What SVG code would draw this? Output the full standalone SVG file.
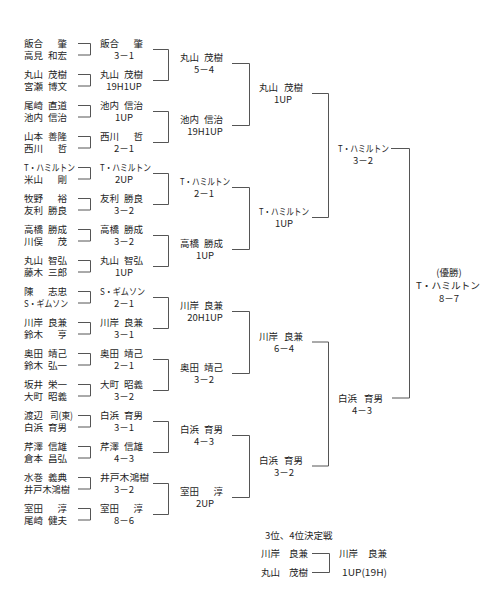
<svg xmlns="http://www.w3.org/2000/svg" width="504" height="600" viewBox="0 0 504 600">
<style>
text{font-family:"Noto Sans CJK JP","Noto Sans",sans-serif;font-size:9.5px;fill:#1e1e1e}
.m{text-anchor:middle}
.l{fill:none;stroke:#555;stroke-width:1}
</style>
<rect width="504" height="600" fill="#fff"/>
<g id="connectors" class="l">
<path d="M78 43.5H90.5V55H78M78 74.5H90.5V86H78M78 105.5H90.5V117H78M78 136.5H90.5V148H78M78 167.5H90.5V179H78M78 198.5H90.5V210H78M78 229.5H90.5V241H78M78 260.5H90.5V272H78M78 291.5H90.5V303H78M78 322.5H90.5V334H78M78 353.5H90.5V365H78M78 384.5H90.5V396H78M78 415.5H90.5V427H78M78 446.5H90.5V458H78M78 477.5H90.5V489H78M78 508.5H90.5V520H78"/>
<path d="M153 49.5H168.5V80.5H153M153 111.5H168.5V142.5H153M153 173.5H168.5V204.5H153M153 235.5H168.5V266.5H153M153 297.5H168.5V328.5H153M153 359.5H168.5V390.5H153M153 421.5H168.5V452.5H153M153 483.5H168.5V514.5H153"/>
<path d="M232 63.5H249.5V125.5H232M232 187.5H249.5V249.5H232M232 311.5H249.5V373.5H232M232 435.5H249.5V497.5H232"/>
<path d="M312 93.5H328.5V217.5H312M312 342H328.5V466H312"/>
<path d="M391 148.5H409.5V398H392"/>
<path d="M312 553.5H329.5V572.5H312"/>
</g>
<g id="round1">
<g id="p0"><text x="24" y="47"><tspan>飯合 </tspan><tspan x="57.5">肇</tspan></text><text x="24" y="58.5"><tspan>高見 </tspan><tspan x="48">和宏</tspan></text></g>
<g id="p1"><text x="24" y="78"><tspan>丸山 </tspan><tspan x="48">茂樹</tspan></text><text x="24" y="89.5"><tspan>宮瀬 </tspan><tspan x="48">博文</tspan></text></g>
<g id="p2"><text x="24" y="109"><tspan>尾崎 </tspan><tspan x="48">直道</tspan></text><text x="24" y="120.5"><tspan>池内 </tspan><tspan x="48">信治</tspan></text></g>
<g id="p3"><text x="24" y="140"><tspan>山本 </tspan><tspan x="48">善隆</tspan></text><text x="24" y="151.5"><tspan>西川 </tspan><tspan x="57.5">哲</tspan></text></g>
<g id="p4"><text x="24" y="171" textLength="51" lengthAdjust="spacingAndGlyphs">T・ハミルトン</text><text x="24" y="182.5"><tspan>米山 </tspan><tspan x="57.5">剛</tspan></text></g>
<g id="p5"><text x="24" y="202"><tspan>牧野 </tspan><tspan x="57.5">裕</tspan></text><text x="24" y="213.5"><tspan>友利 </tspan><tspan x="48">勝良</tspan></text></g>
<g id="p6"><text x="24" y="233"><tspan>高橋 </tspan><tspan x="48">勝成</tspan></text><text x="24" y="244.5"><tspan>川俣 </tspan><tspan x="57.5">茂</tspan></text></g>
<g id="p7"><text x="24" y="264"><tspan>丸山 </tspan><tspan x="48">智弘</tspan></text><text x="24" y="275.5"><tspan>藤木 </tspan><tspan x="48">三郎</tspan></text></g>
<g id="p8"><text x="24" y="295"><tspan>陳 </tspan><tspan x="48">志忠</tspan></text><text x="24" y="306.5" textLength="44" lengthAdjust="spacingAndGlyphs">S・ギムソン</text></g>
<g id="p9"><text x="24" y="326"><tspan>川岸 </tspan><tspan x="48">良兼</tspan></text><text x="24" y="337.5"><tspan>鈴木 </tspan><tspan x="57.5">亨</tspan></text></g>
<g id="p10"><text x="24" y="357"><tspan>奥田 </tspan><tspan x="48">靖己</tspan></text><text x="24" y="368.5"><tspan>鈴木 </tspan><tspan x="48">弘一</tspan></text></g>
<g id="p11"><text x="24" y="388"><tspan>坂井 </tspan><tspan x="48">栄一</tspan></text><text x="24" y="399.5"><tspan>大町 </tspan><tspan x="48">昭義</tspan></text></g>
<g id="p12"><text x="24" y="419"><tspan>渡辺 </tspan><tspan x="50" textLength="23" lengthAdjust="spacingAndGlyphs">司(東)</tspan></text><text x="24" y="430.5"><tspan>白浜 </tspan><tspan x="48">育男</tspan></text></g>
<g id="p13"><text x="24" y="450"><tspan>芹澤 </tspan><tspan x="48">信雄</tspan></text><text x="24" y="461.5"><tspan>倉本 </tspan><tspan x="48">昌弘</tspan></text></g>
<g id="p14"><text x="24" y="481"><tspan>水巻 </tspan><tspan x="48">義典</tspan></text><text x="24" y="492.5" textLength="46" lengthAdjust="spacingAndGlyphs">井戸木鴻樹</text></g>
<g id="p15"><text x="24" y="512"><tspan>室田 </tspan><tspan x="57.5">淳</tspan></text><text x="24" y="523.5"><tspan>尾崎 </tspan><tspan x="48">健夫</tspan></text></g>
</g>
<g id="round2">
<g id="w2-0"><text x="100" y="47"><tspan>飯合 </tspan><tspan x="133.5">肇</tspan></text><text class="m" x="124" y="58.5">3－1</text></g>
<g id="w2-1"><text x="100" y="78"><tspan>丸山 </tspan><tspan x="124">茂樹</tspan></text><text class="m" x="124" y="89.5">19H1UP</text></g>
<g id="w2-2"><text x="100" y="109"><tspan>池内 </tspan><tspan x="124">信治</tspan></text><text class="m" x="124" y="120.5">1UP</text></g>
<g id="w2-3"><text x="100" y="140"><tspan>西川 </tspan><tspan x="133.5">哲</tspan></text><text class="m" x="124" y="151.5">2－1</text></g>
<g id="w2-4"><text x="100" y="171" textLength="51" lengthAdjust="spacingAndGlyphs">T・ハミルトン</text><text class="m" x="124" y="182.5">2UP</text></g>
<g id="w2-5"><text x="100" y="202"><tspan>友利 </tspan><tspan x="124">勝良</tspan></text><text class="m" x="124" y="213.5">3－2</text></g>
<g id="w2-6"><text x="100" y="233"><tspan>高橋 </tspan><tspan x="124">勝成</tspan></text><text class="m" x="124" y="244.5">3－2</text></g>
<g id="w2-7"><text x="100" y="264"><tspan>丸山 </tspan><tspan x="124">智弘</tspan></text><text class="m" x="124" y="275.5">1UP</text></g>
<g id="w2-8"><text x="100" y="295" textLength="45" lengthAdjust="spacingAndGlyphs">S・ギムソン</text><text class="m" x="124" y="306.5">2－1</text></g>
<g id="w2-9"><text x="100" y="326"><tspan>川岸 </tspan><tspan x="124">良兼</tspan></text><text class="m" x="124" y="337.5">3－1</text></g>
<g id="w2-10"><text x="100" y="357"><tspan>奥田 </tspan><tspan x="124">靖己</tspan></text><text class="m" x="124" y="368.5">2－1</text></g>
<g id="w2-11"><text x="100" y="388"><tspan>大町 </tspan><tspan x="124">昭義</tspan></text><text class="m" x="124" y="399.5">3－2</text></g>
<g id="w2-12"><text x="100" y="419"><tspan>白浜 </tspan><tspan x="124">育男</tspan></text><text class="m" x="124" y="430.5">3－1</text></g>
<g id="w2-13"><text x="100" y="450"><tspan>芹澤 </tspan><tspan x="124">信雄</tspan></text><text class="m" x="124" y="461.5">4－3</text></g>
<g id="w2-14"><text x="100" y="481" textLength="49" lengthAdjust="spacingAndGlyphs">井戸木鴻樹</text><text class="m" x="124" y="492.5">3－2</text></g>
<g id="w2-15"><text x="100" y="512"><tspan>室田 </tspan><tspan x="133.5">淳</tspan></text><text class="m" x="124" y="523.5">8－6</text></g>
</g>
<g id="round3">
<g id="w3-0"><text x="180" y="61"><tspan>丸山 </tspan><tspan x="204">茂樹</tspan></text><text class="m" x="204" y="73">5－4</text></g>
<g id="w3-1"><text x="180" y="123"><tspan>池内 </tspan><tspan x="204">信治</tspan></text><text class="m" x="205" y="135">19H1UP</text></g>
<g id="w3-2"><text x="180" y="185" textLength="50" lengthAdjust="spacingAndGlyphs">T・ハミルトン</text><text class="m" x="204" y="197">2－1</text></g>
<g id="w3-3"><text x="180" y="247"><tspan>高橋 </tspan><tspan x="204">勝成</tspan></text><text class="m" x="205" y="259">1UP</text></g>
<g id="w3-4"><text x="180" y="309"><tspan>川岸 </tspan><tspan x="204">良兼</tspan></text><text class="m" x="205" y="321">20H1UP</text></g>
<g id="w3-5"><text x="180" y="371"><tspan>奥田 </tspan><tspan x="204">靖己</tspan></text><text class="m" x="204" y="383">3－2</text></g>
<g id="w3-6"><text x="180" y="433"><tspan>白浜 </tspan><tspan x="204">育男</tspan></text><text class="m" x="204" y="445">4－3</text></g>
<g id="w3-7"><text x="180" y="495"><tspan>室田 </tspan><tspan x="213.5">淳</tspan></text><text class="m" x="205" y="507">2UP</text></g>
</g>
<g id="round4">
<g id="w4-0"><text x="259" y="91"><tspan>丸山 </tspan><tspan x="284">茂樹</tspan></text><text class="m" x="283" y="103">1UP</text></g>
<g id="w4-1"><text x="259" y="215" textLength="50" lengthAdjust="spacingAndGlyphs">T・ハミルトン</text><text class="m" x="284" y="227">1UP</text></g>
<g id="w4-2"><text x="259" y="339.5"><tspan>川岸 </tspan><tspan x="284">良兼</tspan></text><text class="m" x="284" y="351.5">6－4</text></g>
<g id="w4-3"><text x="259" y="463.5"><tspan>白浜 </tspan><tspan x="284">育男</tspan></text><text class="m" x="284" y="475.5">3－2</text></g>
</g>
<g id="round5">
<g id="w5-0"><text x="338" y="152" textLength="51" lengthAdjust="spacingAndGlyphs">T・ハミルトン</text><text class="m" x="363" y="164">3－2</text></g>
<g id="w5-1"><text x="338" y="401.5"><tspan>白浜 </tspan><tspan x="364">育男</tspan></text><text class="m" x="362" y="413.5">4－3</text></g>
</g>
<g id="champion">
<text class="m" x="449" y="275.5">(優勝)</text>
<text class="m" x="448" y="288.5" textLength="64" lengthAdjust="spacingAndGlyphs">T・ハミルトン</text>
<text class="m" x="449" y="301.5">8－7</text>
</g>
<g id="third-place">
<text x="265" y="538.5">3位、4位決定戦</text>
<g id="t-a"><text x="261" y="556.5"><tspan>川岸 </tspan><tspan x="289">良兼</tspan></text></g>
<g id="t-b"><text x="261" y="575.5"><tspan>丸山 </tspan><tspan x="289">茂樹</tspan></text></g>
<g id="t-w"><text x="339" y="556.5"><tspan>川岸 </tspan><tspan x="368">良兼</tspan></text><text x="342" y="575.5" textLength="45" lengthAdjust="spacingAndGlyphs">1UP(19H)</text></g>
</g>
</svg>
